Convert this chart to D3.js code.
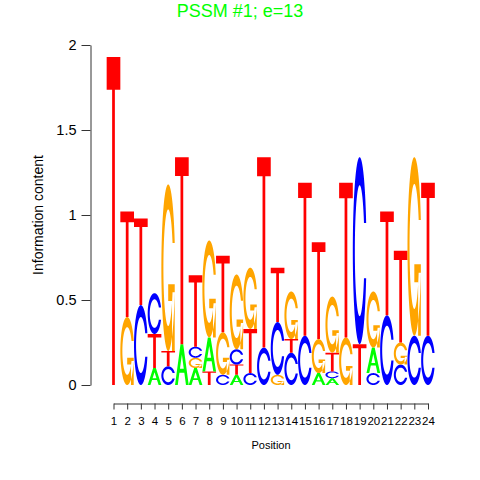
<!DOCTYPE html>
<html><head><meta charset="utf-8">
<script src="https://cdn.jsdelivr.net/npm/d3@7"></script>
<style>body{margin:0;background:#fff}svg{display:block}text{font-family:"Liberation Sans",Arial,Helvetica,sans-serif}</style>
</head><body><svg id="c" width="480" height="480"></svg>
<script>
// ---- data ----
const positions = d3.range(1, 25);
const heightA = [0,0,0,0.10,0,0.24,0.10,0.20,0,0.06,0,0,0,0,0,0.07,0.04,0,0,0.15,0,0,0,0];
const heightC = [0,0,0.47,0.24,0.11,0,0.065,0,0.06,0.09,0.07,0.22,0.31,0.19,0.29,0,0.04,0,1.10,0.07,0.41,0.12,0.29,0.29];
const heightG = [0,0.40,0,0,0.98,0,0.06,0.57,0.25,0.44,0.36,0,0.06,0.28,0,0.20,0.33,0.28,0,0.33,0,0.13,1.05,0];
const heightT = [1.93,0.62,0.51,0.20,0.09,1.10,0.42,0.08,0.45,0.06,0.26,1.12,0.32,0.08,0.90,0.57,0.11,0.91,0.24,0,0.61,0.54,0,0.90];
const stackOrder = ["T","GT","CT","ATC","CTG","AT","AGCT","TAG","CGT","ATCG","CTG","CT","GCT","CTG","CT","AGT","ACTG","GT","TC","CAG","CT","CGT","CG","CT"];
const yTicks = [0, 0.5, 1, 1.5, 2];
const yTickLabels = ["0", "0.5", "1", "1.5", "2"];
const titleText = "PSSM #1; e=13";
const xTitle = "Position";
const yTitle = "Information content";
const letterColors = {A: "#00ff00", C: "#0000ff", G: "#ffa500", T: "#ff0000"};

// ---- glyph shapes (unit box, y up) ----
function seq(a, b, n) { const r = []; for (let i = 0; i < n; i++) r.push(a + (b - a) * i / (n - 1)); return r; }
function cShape() {
  const a1 = seq(0.3 + Math.PI / 2, Math.PI, 100), a2 = seq(Math.PI, 1.5 * Math.PI, 100);
  const xl1 = a1.map(a => 0.5 + 0.5 * Math.sin(a)), yl1 = a1.map(a => 0.5 + 0.5 * Math.cos(a));
  const xl2 = a2.map(a => 0.5 + 0.5 * Math.sin(a)), yl2 = a2.map(a => 0.5 + 0.5 * Math.cos(a));
  const xl = xl1.concat(xl2), yl = yl1.concat(yl2);
  let x = xl.concat(xl.slice().reverse()), y = yl.concat(yl.slice().reverse().map(v => 1 - v));
  const maxY = d3.max(yl1);
  let xi1 = a1.map(a => 0.5 + 0.35 * Math.sin(a)), yi1 = a1.map(a => 0.5 + 0.35 * Math.cos(a));
  const keep = yi1.map(v => v <= maxY);
  xi1 = xi1.filter((v, i) => keep[i]); yi1 = yi1.filter((v, i) => keep[i]); yi1[0] = maxY;
  const xi2 = a2.map(a => 0.5 + 0.35 * Math.sin(a)), yi2 = a2.map(a => 0.5 + 0.35 * Math.cos(a));
  const xi = xi1.concat(xi2), yi = yi1.concat(yi2);
  const x1 = xi.concat(xi.slice().reverse()), y1 = yi.concat(yi.slice().reverse().map(v => 1 - v));
  x = x.concat(x1.slice().reverse()); y = y.concat(y1.slice().reverse());
  return {pts: x.map((v, i) => [v, y[i]]), r1: d3.max(xl1)};
}
const C0 = cShape();
const shapes = {
  A: [[[0,0],[0.4,1],[0.6,1],[1,0],[0.8,0],[0.68,0.3],[0.32,0.3],[0.2,0],[0,0]], [[0.36,0.4],[0.5,0.75],[0.64,0.4],[0.36,0.4]]],
  C: [C0.pts],
  G: [C0.pts, [[C0.r1,0.4],[0.5,0.4],[0.5,0.3],[C0.r1-0.2,0.3],[C0.r1-0.2,0],[C0.r1,0],[C0.r1,0.4]]],
  T: [[[0,1],[1,1],[1,0.9],[0.6,0.9],[0.6,0],[0.4,0],[0.4,0.9],[0,0.9]]]
};

// ---- scales ----
const svg = d3.select("#c");
const x = d3.scaleLinear().domain([1, 24]).range([113.5, 428]);
const y = d3.scaleLinear().domain([0, 2]).range([385, 45]);
const colW = x(2) - x(1);

// ---- letters ----
const heights = {A: heightA, C: heightC, G: heightG, T: heightT};
const g = svg.append("g");
positions.forEach((p, i) => {
  let base = 0;
  for (const L of stackOrder[i]) {
    const h = heights[L][i];
    if (h <= 0) continue;
    const left = x(p) - colW / 2;
    const line = d3.line().x(d => left + colW * d[0]).y(d => y(base + h * d[1]));
    const path = shapes[L].map(poly => line(poly) + "Z").join("");
    g.append("path").attr("d", path).attr("fill", letterColors[L]).attr("fill-rule", "evenodd");
    base += h;
  }
});

// ---- axes ----
const yAxis = svg.append("g").attr("transform", "translate(90.5,0)")
  .call(d3.axisLeft(y).tickValues(yTicks).tickFormat((d, i) => yTickLabels[i]).tickSize(9).tickSizeOuter(0).tickPadding(5));
yAxis.select(".domain").attr("stroke", "#333");
yAxis.selectAll(".tick line").attr("stroke", "#333");
yAxis.selectAll("text").attr("font-size", 14.5).attr("fill", "#000").attr("font-family", "Liberation Sans, Arial, sans-serif");

const xAxis = svg.append("g").attr("transform", "translate(0,403.5)")
  .call(d3.axisBottom(x).tickValues(positions).tickFormat(d3.format("d")).tickSize(6).tickSizeOuter(0).tickPadding(7));
xAxis.select(".domain").attr("stroke", "#333");
xAxis.selectAll(".tick line").attr("stroke", "#333");
xAxis.selectAll("text").attr("font-size", 11.5).attr("fill", "#000").attr("font-family", "Liberation Sans, Arial, sans-serif");

svg.append("text").attr("x", 240).attr("y", 16.5).attr("text-anchor", "middle")
  .attr("font-size", 18).attr("fill", "#00ff00").text(titleText);
svg.append("text").attr("x", 271).attr("y", 449).attr("text-anchor", "middle")
  .attr("font-size", 11).attr("fill", "#000").text(xTitle);
svg.append("text").attr("transform", "translate(43,215) rotate(-90)").attr("text-anchor", "middle")
  .attr("font-size", 14).attr("fill", "#000").text(yTitle);
</script></body></html>
